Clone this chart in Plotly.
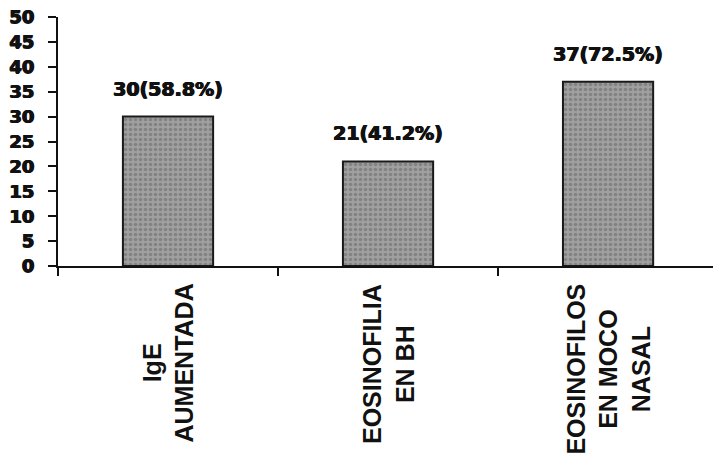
import plotly.graph_objects as go

categories = ["IgE<br>AUMENTADA", "EOSINOFILIA<br>EN BH", "EOSINOFILOS<br>EN MOCO<br>NASAL"]
counts = [30, 21, 37]
percents = [58.8, 41.2, 72.5]
y_ticks = [0, 5, 10, 15, 20, 25, 30, 35, 40, 45, 50]

labels = [f"{c}({p}%)" for c, p in zip(counts, percents)]

heavy = "0.7px 0px 0px #111, -0.5px 0px 0px #111, 0px 0.4px 0px #111"

fig = go.Figure()
fig.add_trace(go.Bar(
    x=categories, y=counts, width=0.41,
    marker=dict(
        color="#989898",
        line=dict(color="#1a1a1a", width=2),
        pattern=dict(shape=".", fgcolor="#646464", bgcolor="#a0a0a0", size=5, solidity=0.4),
    ),
    showlegend=False,
))

for cat, v, lab in zip(categories, counts, labels):
    fig.add_annotation(x=cat, y=v, text=lab, showarrow=False, yanchor="bottom", yshift=15,
                       font=dict(family="DejaVu Sans", size=19, color="#111", weight="bold",
                                 shadow=heavy))
    fig.add_annotation(x=cat, y=0, text=cat, showarrow=False, textangle=-90,
                       yanchor="top", yshift=-16, align="center",
                       font=dict(family="Liberation Sans", size=25, color="#111", weight="bold"))

fig.update_layout(
    width=713, height=455,
    margin=dict(l=58, r=0, t=17, b=189),
    plot_bgcolor="white", paper_bgcolor="white",
    font=dict(family="DejaVu Sans", color="#111"),
)
fig.update_xaxes(
    type="category", range=[-0.5, 2.477], tickson="boundaries", automargin=False,
    showticklabels=False, ticks="outside", ticklen=8, tickwidth=2, tickcolor="#111",
    showline=True, linecolor="#111", linewidth=2, showgrid=False, zeroline=False,
)
fig.update_yaxes(
    range=[0, 50], tickvals=y_ticks, ticks="outside", ticklen=8, tickwidth=2, automargin=False,
    tickcolor="#111", showline=True, linecolor="#111", linewidth=2, showgrid=False,
    zeroline=False, ticklabelstandoff=10, ticklabeloverflow="allow",
    tickfont=dict(family="DejaVu Sans", size=18, weight="bold", color="#111", shadow=heavy),
)

fig.write_html("out.html", config={"displayModeBar": False},
               post_script="document.body.style.margin='0';document.body.style.overflow='hidden';")
